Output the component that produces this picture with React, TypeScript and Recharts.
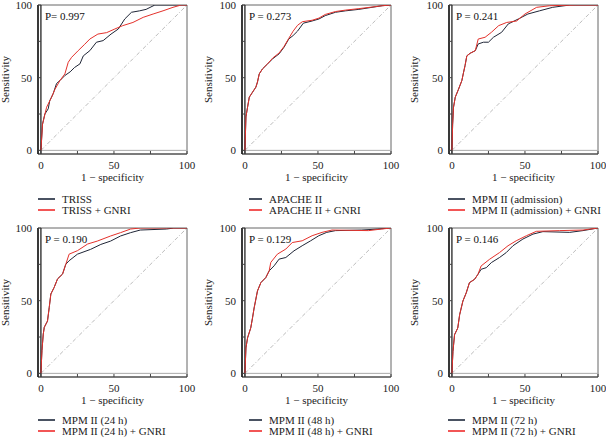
import React from 'react';
import { LineChart, Line, XAxis, YAxis, ReferenceLine, ReferenceArea } from 'recharts';

type Pt = { x: number; y: number };
const pts = (a: number[][]): Pt[] => a.map(([x, y]) => ({ x, y }));

// axis ticks (labels only on 0 / 50 / 100)
const xTicks = [0, 25, 50, 75, 100];
const yTicks = [0, 25, 50, 75, 100];
const chanceLine = pts([[0, 0], [100, 100]]);

// ROC curves (x = 1 - specificity, y = sensitivity)
const trissBase = pts([
  [0, 0], [1.1, 18], [2.7, 25], [5, 28.6], [6, 34], [8.4, 39], [10.7, 46], [13, 48],
  [16.4, 51.5], [20, 54], [23, 57], [26.7, 59.5], [29, 65], [33.5, 68.6], [38, 74.4],
  [42.6, 75.5], [48, 80], [53, 83.5], [57.4, 90.4], [62, 95], [67.6, 96], [72, 97],
  [78, 100], [100, 100],
]);
const trissGnri = pts([
  [0, 0], [1.1, 18], [3.9, 29.7], [7.3, 36.6], [9.6, 42], [13, 48], [16.4, 52.6],
  [18.7, 60.6], [21, 64], [25.5, 68.6], [30, 73], [33.5, 76.6], [39, 80], [45, 81],
  [50.6, 83.5], [56, 85.8], [63, 88], [70, 91.5], [76.8, 93.8], [83.6, 96], [90.4, 98.4],
  [96, 100], [100, 100],
]);

const apacheBase = pts([
  [0, 0], [0.7, 23], [1.8, 29.7], [3, 36.6], [5.2, 40], [7.5, 43.5], [8.6, 47], [9.8, 52.6],
  [12, 56], [15.5, 59.5], [19, 63], [23.4, 66.4], [26.8, 71], [30, 76.6], [33, 79],
  [36, 82], [40, 87.5], [46, 89], [50.7, 90.4], [55, 92.7], [62, 95], [69, 96], [78, 97],
  [87, 98.4], [94, 99.5], [100, 100],
]);
const apacheGnri = pts([
  [0, 0], [0.7, 23], [1.8, 29.7], [3, 36.6], [5.2, 40], [7.5, 43.5], [8.6, 47], [9.8, 52.6],
  [12, 56], [15.5, 59.5], [19, 63.5], [23.4, 67], [26.8, 71.5], [30, 77], [33, 82],
  [36, 86], [39.3, 88.5], [46, 89.5], [50.7, 91], [55, 93.5], [62, 95.5], [69, 96.5],
  [78, 97.5], [87, 98.6], [94, 99.5], [100, 100],
]);

const admBase = pts([
  [0, 0], [0.5, 18], [1.1, 29.7], [2.3, 36.6], [4.5, 42], [6.8, 48], [8, 53.8], [9, 58.4],
  [10.2, 65], [12.5, 66.8], [16, 68.6], [18, 73.2], [21.6, 74.4], [25, 74.4], [28.4, 77.8],
  [34, 81.2], [38.6, 87], [45.5, 90.4], [52, 93.8], [60, 96], [69, 98.4], [80.7, 100],
  [100, 100],
]);
const admGnri = pts([
  [0, 0], [0.5, 18], [1.1, 29.7], [2.3, 36.6], [4.5, 42], [6.8, 48], [8, 53.8], [9, 58.4],
  [10.2, 65], [12.5, 66.8], [16, 68.6], [18, 76.6], [22.7, 77.8], [27, 81.2], [32, 85.8],
  [37.5, 88], [44.3, 89], [50, 93.8], [58, 98.4], [67, 99.5], [85, 100], [100, 100],
]);

const h24Base = pts([
  [0, 0], [0.7, 15.6], [1.6, 27], [2.3, 31.7], [4.5, 36], [5.7, 45.4], [6.8, 54.6], [9, 59],
  [11.4, 65], [14.8, 68.3], [17, 75], [19.3, 77.5], [25, 82], [34, 85.3], [41, 88.7],
  [47.7, 91], [54.5, 94.5], [61.4, 96.8], [68, 98.6], [86, 99.3], [91, 100], [100, 100],
]);
const h24Gnri = pts([
  [0, 0], [0.7, 15.6], [1.6, 27], [2.3, 31.7], [4.5, 36], [5.7, 45.4], [6.8, 54.6], [9, 59],
  [11.4, 65], [14.8, 68.3], [17, 75], [19.3, 82], [25, 84.4], [32, 89], [38.6, 91],
  [47.7, 94.5], [54.5, 96.8], [61.4, 99.3], [68, 100], [100, 100],
]);

const h48Base = pts([
  [0, 0], [0.7, 17.5], [1.8, 24.4], [4, 31.3], [5.2, 38.2], [6.3, 45], [8.6, 56.7],
  [10.9, 62.4], [14.3, 65.9], [16.6, 70.5], [20, 74], [23.4, 78.6], [28, 79.7], [33.6, 84.3],
  [39.2, 87.8], [45, 91.2], [50.6, 94.7], [56, 97], [62, 98.2], [80, 98.6], [91, 99.3],
  [100, 100],
]);
const h48Gnri = pts([
  [0, 0], [0.7, 17.5], [1.8, 24.4], [4, 31.3], [5.2, 38.2], [6.3, 45], [8.6, 56.7],
  [10.9, 62.4], [14.3, 65.9], [16.6, 70.5], [17.7, 76.3], [22.2, 82], [28, 85.5], [32.4, 90],
  [39.2, 91.2], [46, 94.7], [52.8, 97], [59.6, 98.6], [84.6, 98.2], [93.6, 99.3], [100, 100],
]);

const h72Base = pts([
  [0, 0], [0.7, 15], [1.8, 26.6], [4, 31.2], [5.3, 40.4], [7.5, 49.7], [9.8, 55.4], [12, 62.4],
  [15.5, 64.7], [17.8, 68.1], [20, 71.6], [23.5, 72.7], [27, 76.2], [32.6, 79.7], [37.2, 83.1],
  [41.8, 87.8], [48.6, 92.4], [55.5, 95.8], [62.3, 97.5], [80.6, 97], [89.7, 98.2], [100, 100],
]);
const h72Gnri = pts([
  [0, 0], [0.7, 15], [1.8, 26.6], [4, 31.2], [5.3, 40.4], [7.5, 49.7], [9.8, 55.4], [12, 62.4],
  [15.5, 64.7], [17.8, 68.1], [20, 73.9], [25.8, 78.5], [32.6, 83.1], [38.4, 87.8], [44, 91.2],
  [51, 94.7], [57.8, 97.7], [73.8, 98.2], [89.7, 98.6], [100, 100],
]);

const panelNames = ['TRISS', 'APACHE II', 'MPM II (admission)', 'MPM II (24 h)', 'MPM II (48 h)', 'MPM II (72 h)'];
const pValues = ['P= 0.997', 'P = 0.273', 'P = 0.241', 'P = 0.190', 'P = 0.129', 'P = 0.146'];
const baseSeries = [trissBase, apacheBase, admBase, h24Base, h48Base, h72Base];
const gnriSeries = [trissGnri, apacheGnri, admGnri, h24Gnri, h48Gnri, h72Gnri];

// layout
const FONT = '"Liberation Serif", serif';
const PANEL_W = 202;
const PANEL_H = 221;
const PLOT_W = 149;
const PLOT_H = 149;
const X_AXIS_H = 30;
const BLACK = '#1f2536';
const RED = '#e4312b';
const columns = [
  { plotLeft: 38, legendX: 38, sampleW: 17, yLabelX: 5 },
  { plotLeft: 40, legendX: 47, sampleW: 13, yLabelX: 6 },
  { plotLeft: 45, legendX: 44, sampleW: 17, yLabelX: 10 },
];
const rowTops = [5, 7];

function RocPanel({ idx }: { idx: number }) {
  const col = columns[idx % 3];
  const row = Math.floor(idx / 3);
  const plotTop = rowTops[row];
  const chartH = plotTop + PLOT_H + X_AXIS_H;
  const tickFmt = (v: number) => (v % 50 === 0 ? String(v) : '');
  const tickStyle = { fontSize: 11, fill: '#222', fontFamily: FONT };

  return (
    <div
      style={{
        position: 'absolute',
        left: (idx % 3) * PANEL_W,
        top: row * PANEL_H,
        width: PANEL_W,
        height: PANEL_H,
        fontFamily: FONT,
      }}
    >
      <LineChart
        width={PANEL_W}
        height={chartH}
        margin={{ top: plotTop, right: PANEL_W - col.plotLeft - PLOT_W, bottom: 0, left: 0 }}
      >
        <XAxis
          type="number"
          dataKey="x"
          domain={[-2, 100]}
          ticks={xTicks}
          interval={0}
          allowDataOverflow
          tickFormatter={tickFmt}
          tick={tickStyle}
          tickSize={-3}
          tickMargin={10}
          height={X_AXIS_H}
          axisLine={{ stroke: '#444', strokeWidth: 1 }}
          tickLine={{ stroke: '#444' }}
          label={{ value: '1 − specificity', position: 'insideBottom', offset: 3, fontSize: 11, fill: '#222', fontFamily: FONT }}
        />
        <YAxis
          type="number"
          dataKey="y"
          domain={[-2.5, 100]}
          ticks={yTicks}
          interval={0}
          allowDataOverflow
          tickFormatter={tickFmt}
          tick={tickStyle}
          tickSize={-3}
          tickMargin={9}
          width={col.plotLeft}
          axisLine={{ stroke: '#111', strokeWidth: 1.5 }}
          tickLine={{ stroke: '#444' }}
          label={{
            value: 'Sensitivity',
            angle: -90,
            position: 'insideLeft',
            offset: col.yLabelX,
            fontSize: 11,
            fill: '#222',
            fontFamily: FONT,
            style: { textAnchor: 'middle' },
          }}
        />
        <ReferenceArea
          x1={-2}
          x2={100}
          y1={-2.5}
          y2={100}
          fill="none"
          stroke="#666"
          strokeWidth={1}
          label={{ value: pValues[idx], position: 'insideTopLeft', offset: 7, fontSize: 11, fill: '#111', fontFamily: FONT }}
        />
        <ReferenceLine y={0} stroke="#aaa" strokeWidth={1} />
        <ReferenceLine x={0} stroke="#111" strokeWidth={1.2} />
        <Line
          data={chanceLine}
          dataKey="y"
          stroke="#aaa"
          strokeWidth={0.8}
          strokeDasharray="4 2 1 2"
          dot={false}
          isAnimationActive={false}
        />
        <Line data={baseSeries[idx]} dataKey="y" stroke={BLACK} strokeWidth={1} dot={false} isAnimationActive={false} />
        <Line data={gnriSeries[idx]} dataKey="y" stroke={RED} strokeWidth={1} dot={false} isAnimationActive={false} />
      </LineChart>

      {/* legend */}
      {[
        { color: '#4a5262', text: panelNames[idx] },
        { color: '#f25656', text: `${panelNames[idx]} + GNRI` },
      ].map((item, i) => (
        <div
          key={i}
          style={{
            position: 'absolute',
            left: col.legendX,
            top: 193 + i * 11,
            height: 12,
            display: 'flex',
            alignItems: 'flex-start',
            fontSize: 11,
            lineHeight: '12px',
            color: '#222',
            whiteSpace: 'nowrap',
          }}
        >
          <span style={{ display: 'block', width: col.sampleW, height: 2, marginTop: 5, background: item.color, marginRight: 7 }} />
          <span>{item.text}</span>
        </div>
      ))}
    </div>
  );
}

export default function App() {
  return (
    <div style={{ position: 'relative', width: 606, height: 442, background: '#fff' }}>
      <style>{'body{margin:0}'}</style>
      {panelNames.map((_, i) => (
        <RocPanel key={i} idx={i} />
      ))}
    </div>
  );
}
